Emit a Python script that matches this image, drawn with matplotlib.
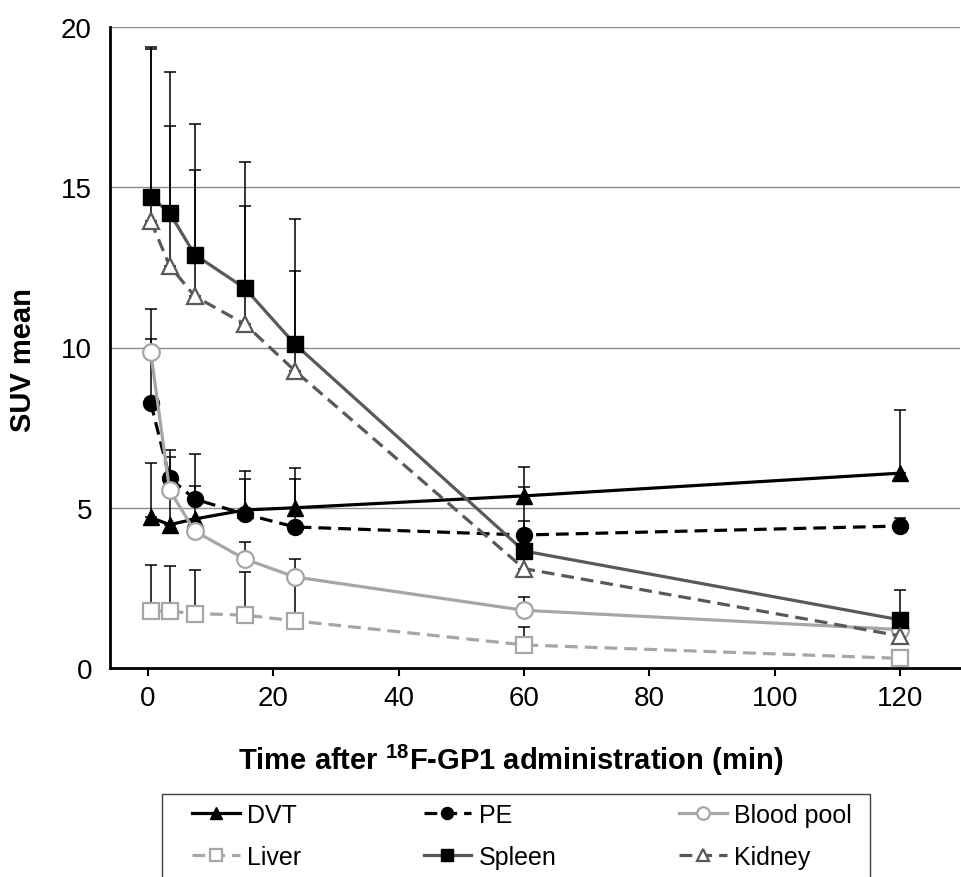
import matplotlib
matplotlib.use("Agg")
import matplotlib.pyplot as plt
from matplotlib.patches import Rectangle

plt.rcParams['font.family'] = ['Liberation Sans', 'DejaVu Sans']
plt.rcParams['mathtext.fontset'] = 'custom'
plt.rcParams['mathtext.rm'] = 'Liberation Sans'
plt.rcParams['mathtext.bf'] = 'Liberation Sans:bold'

times = [0.5, 3.5, 7.5, 15.5, 23.5, 60, 120]

dvt = [4.70, 4.47, 4.65, 4.93, 5.00, 5.37, 6.08]
dvt_err = [1.70, 2.33, 2.03, 1.22, 1.24, 0.90, 1.97]

pe = [8.27, 5.93, 5.27, 4.80, 4.40, 4.15, 4.43]
pe_err = [2.00, 0.65, 0.40, 1.10, 1.50, 0.44, 0.25]

blood = [9.85, 5.55, 4.27, 3.40, 2.84, 1.80, 1.20]
blood_err = [1.35, 0.30, 0.25, 0.53, 0.56, 0.40, 0.15]

liver = [1.77, 1.77, 1.70, 1.65, 1.47, 0.72, 0.30]
liver_err = [1.43, 1.41, 1.35, 1.35, 1.35, 0.56, 0.20]

spleen = [14.70, 14.20, 12.90, 11.85, 10.10, 3.65, 1.50]
spleen_err = [4.60, 4.40, 4.07, 3.95, 3.90, 2.00, 0.93]

kidney = [13.95, 12.55, 11.60, 10.73, 9.27, 3.10, 1.00]
kidney_err = [5.42, 4.35, 3.95, 3.67, 3.13, 0.30, 0.20]

x_ticks = [0, 20, 40, 60, 80, 100, 120]
y_ticks = [0, 5, 10, 15, 20]

LIGHT = '#a6a6a6'
DARK = '#595959'
DASH = (0, (4, 2.2))

W, H = 961, 878
fig = plt.figure(figsize=(W / 100, H / 100), dpi=100)
ax = fig.add_axes([110 / W, (H - 669) / H, 850 / W, 641 / H])

series = [
    ('DVT', dvt, dvt_err, dict(color='black', ls='-', marker='^', mfc='black', mec='black', ms=11)),
    ('PE', pe, pe_err, dict(color='black', ls=DASH, marker='o', mfc='black', mec='black', ms=11.5)),
    ('Blood pool', blood, blood_err, dict(color=LIGHT, ls='-', marker='o', mfc='white', mec=LIGHT, ms=12, mew=1.6)),
    ('Liver', liver, liver_err, dict(color=LIGHT, ls=DASH, marker='s', mfc='white', mec=LIGHT, ms=12, mew=1.6)),
    ('Spleen', spleen, spleen_err, dict(color=DARK, ls='-', marker='s', mfc='black', mec='black', ms=12)),
    ('Kidney', kidney, kidney_err, dict(color=DARK, ls=DASH, marker='^', mfc='white', mec=DARK, ms=11, mew=1.6)),
]

# upper-only error bars, black
for name, vals, errs, st in series:
    ax.errorbar(times, vals, yerr=[[0] * len(errs), errs], fmt='none',
                ecolor='black', elinewidth=1.1, capsize=4, capthick=1.1, zorder=2)

handles = {}
for name, vals, errs, st in series:
    h, = ax.plot(times, vals, lw=2.3, label=name, zorder=3, **st)
    handles[name] = h

ax.set_xlim(-6, 129.5)
ax.set_ylim(0, 20)
ax.set_xticks(x_ticks)
ax.set_yticks(y_ticks)
ax.yaxis.grid(True, color='#8c8c8c', lw=1)
ax.set_axisbelow(True)
for s in ['top', 'right']:
    ax.spines[s].set_visible(False)
ax.spines['left'].set_linewidth(2)
ax.spines['bottom'].set_linewidth(2)
ax.tick_params(axis='y', length=0, labelsize=20, pad=13)
ax.tick_params(axis='x', length=6, width=1.5, labelsize=20, pad=6, direction='out')

ax.set_ylabel('SUV mean', fontsize=21, fontweight='bold')
ax.yaxis.set_label_coords(-73 / 850, 0.482)

fig.text(511 / W, (H - 760) / H, 'Time after $^{\\mathbf{18}}$F-GP1 administration (min)',
         fontsize=21, fontweight='bold', ha='center', va='center')

# legend: row-wise order DVT, PE, Blood pool / Liver, Spleen, Kidney
order = ['DVT', 'Liver', 'PE', 'Spleen', 'Blood pool', 'Kidney']
leg = fig.legend([handles[k] for k in order], order, loc='upper left',
                 bbox_to_anchor=(192 / W, (H - 804) / H), ncol=3, fontsize=18,
                 frameon=False, handlelength=1.9, handletextpad=0.3,
                 borderaxespad=0, borderpad=0, labelspacing=0.72,
                 columnspacing=4.9, markerscale=0.75)
fig.patches.append(Rectangle((162 / W, -0.01), (870 - 162) / W, (H - 795) / H + 0.01,
                             transform=fig.transFigure, fill=False,
                             edgecolor='#404040', lw=1))

fig.savefig('out.png', dpi=100)
